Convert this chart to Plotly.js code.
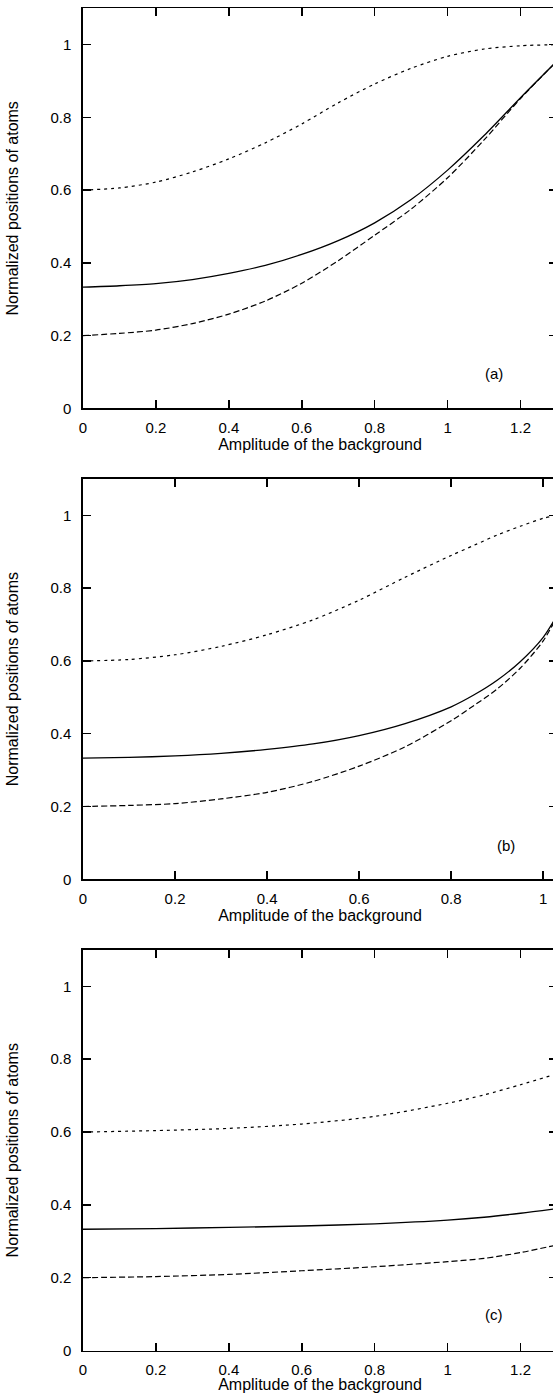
<!DOCTYPE html>
<html>
<head>
<meta charset="utf-8">
<script src="https://cdn.plot.ly/plotly-3.0.1.min.js"></script>
<style>
html, body { margin: 0; padding: 0; overflow: hidden; background: #fff; }
#chart { width: 560px; height: 1393px; }
</style>
</head>
<body>
<div id="chart"></div>
<script>
// ---- data ----
// panel (a)
const xA = [0, 0.1, 0.2, 0.3, 0.4, 0.5, 0.6, 0.7, 0.8, 0.9, 1.0, 1.1, 1.2, 1.3];
const solidA  = [0.333, 0.337, 0.343, 0.354, 0.371, 0.393, 0.423, 0.461, 0.510, 0.574, 0.655, 0.750, 0.854, 0.955];
const dashedA = [0.200, 0.206, 0.215, 0.233, 0.259, 0.295, 0.344, 0.406, 0.476, 0.548, 0.634, 0.738, 0.852, 0.955];
const dottedA = [0.600, 0.606, 0.622, 0.650, 0.686, 0.730, 0.782, 0.840, 0.892, 0.935, 0.968, 0.988, 0.997, 1.000];
// panel (b)
const xB = [0, 0.1, 0.2, 0.3, 0.4, 0.5, 0.6, 0.7, 0.8, 0.85, 0.9, 0.95, 1.0, 1.03];
const solidB  = [0.333, 0.335, 0.339, 0.346, 0.357, 0.372, 0.395, 0.428, 0.474, 0.507, 0.547, 0.598, 0.665, 0.725];
const dashedB = [0.200, 0.203, 0.208, 0.221, 0.239, 0.269, 0.311, 0.364, 0.436, 0.478, 0.523, 0.580, 0.655, 0.722];
const dottedB = [0.600, 0.604, 0.617, 0.640, 0.672, 0.713, 0.767, 0.830, 0.890, 0.918, 0.946, 0.970, 0.992, 1.000];
// panel (c)
const xC = [0, 0.2, 0.4, 0.6, 0.8, 1.0, 1.1, 1.2, 1.3];
const solidC  = [0.333, 0.335, 0.338, 0.342, 0.348, 0.358, 0.366, 0.377, 0.390];
const dashedC = [0.200, 0.203, 0.209, 0.219, 0.230, 0.244, 0.253, 0.269, 0.290];
const dottedC = [0.600, 0.604, 0.610, 0.622, 0.643, 0.679, 0.702, 0.730, 0.760];

const panelLabels = ['(a)', '(b)', '(c)'];
const xTitle = 'Amplitude of the background';
const yTitle = 'Normalized positions of atoms';

// ---- styling ----
const FONT = 'Liberation Sans, Arial, Helvetica, sans-serif';
const solidStyle  = {color: '#000', width: 1.3, dash: 'solid'};
const dashedStyle = {color: '#000', width: 1.2, dash: '6px,3px'};
const dottedStyle = {color: '#000', width: 1.2, dash: '3px,4px'};

function tr(x, y, line, ax) {
  return {x: x, y: y, type: 'scatter', mode: 'lines', line: Object.assign({shape: 'spline', smoothing: 0.8}, line),
          xaxis: 'x' + ax, yaxis: 'y' + ax, showlegend: false, hoverinfo: 'skip'};
}

const data = [
  tr(xA, dottedA, dottedStyle, ''), tr(xA, dashedA, dashedStyle, ''), tr(xA, solidA, solidStyle, ''),
  tr(xB, dottedB, dottedStyle, '2'), tr(xB, dashedB, dashedStyle, '2'), tr(xB, solidB, solidStyle, '2'),
  tr(xC, dottedC, dottedStyle, '3'), tr(xC, dashedC, dashedStyle, '3'), tr(xC, solidC, solidStyle, '3')
];

function xax(range, anchor) {
  return {range: range, anchor: anchor, dtick: 0.2, tick0: 0, showline: true, linecolor: '#000', linewidth: 1.6,
          mirror: 'ticks', ticks: 'inside', ticklen: 8, tickwidth: 1.5, tickcolor: '#000',
          showgrid: false, zeroline: false, automargin: false,
          tickfont: {family: FONT, size: 15, color: '#000'}, ticklabelstandoff: 5,
          title: {text: xTitle, font: {family: FONT, size: 16, color: '#000'}, standoff: 4}};
}
function yax(domain, anchor) {
  return {range: [0, 1.1], domain: domain, anchor: anchor, dtick: 0.2, tick0: 0, showline: true, linecolor: '#000', linewidth: 1.6,
          mirror: 'ticks', ticks: 'inside', ticklen: 8, tickwidth: 1.5, tickcolor: '#000',
          showgrid: false, zeroline: false, automargin: false,
          tickfont: {family: FONT, size: 15, color: '#000'}, ticklabelstandoff: 7,
          title: {text: yTitle, font: {family: FONT, size: 16, color: '#000'}, standoff: 28}};
}

const H = 1393;
const dom = (top, bot) => [1 - bot / H, 1 - top / H];

const layout = {
  width: 560, height: H,
  margin: {l: 83, r: 3, t: 0, b: 0, pad: 0},
  paper_bgcolor: '#fff', plot_bgcolor: '#fff',
  font: {family: FONT, color: '#000'},
  xaxis:  xax([0, 1.3], 'y'),
  yaxis:  yax(dom(8.3, 408.3), 'x'),
  xaxis2: xax([0, 1.03], 'y2'),
  yaxis2: yax(dom(479, 879.3), 'x2'),
  xaxis3: xax([0, 1.3], 'y3'),
  yaxis3: yax(dom(950, 1350.5), 'x3'),
  annotations: [
    {text: panelLabels[0], x: 1.126, y: 0.097, xref: 'x',  yref: 'y',  showarrow: false, font: {family: FONT, size: 15, color: '#000'}},
    {text: panelLabels[1], x: 0.92,  y: 0.094, xref: 'x2', yref: 'y2', showarrow: false, font: {family: FONT, size: 15, color: '#000'}},
    {text: panelLabels[2], x: 1.126, y: 0.10,  xref: 'x3', yref: 'y3', showarrow: false, font: {family: FONT, size: 15, color: '#000'}}
  ]
};

Plotly.newPlot('chart', data, layout, {displayModeBar: false, staticPlot: true});
</script>
</body>
</html>
